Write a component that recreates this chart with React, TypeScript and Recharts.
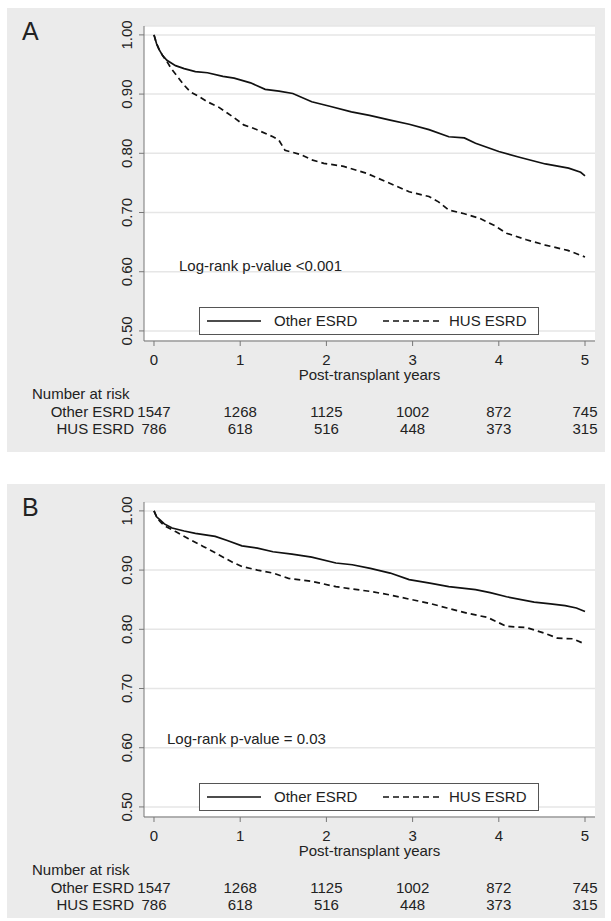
import React from 'react';
import { LineChart, Line, XAxis, YAxis, CartesianGrid } from 'recharts';

const FONT = "'Liberation Sans', Arial, sans-serif";

const years = [0, 1, 2, 3, 4, 5];
const survivalTicks = [0.5, 0.6, 0.7, 0.8, 0.9, 1.0];

const riskOther = [1547, 1268, 1125, 1002, 872, 745];
const riskHus = [786, 618, 516, 448, 373, 315];

// panel A
const otherATimes = [0, 0.03, 0.06, 0.1, 0.15, 0.25, 0.35, 0.48, 0.62, 0.8, 0.93, 1.12, 1.29, 1.45, 1.61, 1.83, 2.05, 2.29, 2.5, 2.74, 2.96, 3.19, 3.42, 3.6, 3.73, 4.0, 4.25, 4.54, 4.81, 4.95, 5.0];
const otherASurv = [1.0, 0.985, 0.975, 0.965, 0.957, 0.948, 0.943, 0.938, 0.936, 0.93, 0.927, 0.919, 0.908, 0.905, 0.901, 0.887, 0.879, 0.87, 0.864, 0.856, 0.849, 0.84, 0.828, 0.826, 0.817, 0.803, 0.793, 0.782, 0.775, 0.768, 0.762];
const husATimes = [0, 0.03, 0.06, 0.1, 0.15, 0.2, 0.27, 0.35, 0.42, 0.52, 0.62, 0.75, 0.85, 0.93, 1.04, 1.16, 1.38, 1.45, 1.52, 1.7, 1.83, 1.97, 2.2, 2.47, 2.74, 2.96, 3.19, 3.3, 3.42, 3.6, 3.78, 3.95, 4.09, 4.32, 4.54, 4.8, 5.0];
const husASurv = [1.0, 0.985, 0.975, 0.965, 0.955, 0.943, 0.93, 0.915, 0.904, 0.896, 0.887, 0.878, 0.868, 0.86, 0.848, 0.842, 0.828, 0.822, 0.805, 0.798, 0.789, 0.783, 0.778, 0.766, 0.749, 0.735, 0.727, 0.718, 0.704, 0.698, 0.69, 0.678, 0.665, 0.654, 0.645, 0.636, 0.625];

// panel B
const otherBTimes = [0, 0.03, 0.07, 0.12, 0.21, 0.35, 0.48, 0.71, 0.85, 1.02, 1.2, 1.38, 1.6, 1.83, 2.11, 2.3, 2.51, 2.74, 2.96, 3.2, 3.42, 3.73, 3.9, 4.09, 4.41, 4.6, 4.77, 4.9, 5.0];
const otherBSurv = [1.0, 0.99, 0.985, 0.978, 0.971, 0.966, 0.962, 0.957, 0.95, 0.941, 0.937, 0.931, 0.927, 0.922, 0.912, 0.909, 0.903, 0.895, 0.884, 0.878, 0.872, 0.867, 0.862, 0.855, 0.846, 0.843, 0.84, 0.836, 0.83];
const husBTimes = [0, 0.03, 0.07, 0.12, 0.25, 0.4, 0.57, 0.65, 0.75, 0.9, 1.02, 1.2, 1.38, 1.56, 1.83, 2.11, 2.3, 2.51, 2.74, 2.96, 3.19, 3.4, 3.64, 3.87, 4.09, 4.32, 4.54, 4.68, 4.86, 5.0];
const husBSurv = [1.0, 0.99, 0.982, 0.975, 0.965, 0.953, 0.94, 0.934, 0.926, 0.914, 0.906, 0.9, 0.895, 0.886, 0.881, 0.872, 0.868, 0.864, 0.858, 0.851, 0.844, 0.836, 0.827, 0.82, 0.805, 0.803, 0.793, 0.785, 0.784, 0.775];

const toRows = (times: number[], surv: number[]) => times.map((t, i) => ({ t, s: surv[i] }));

const PANEL_BG = '#ebebeb';
const TEXT = '#222';

const YearTick = (props: any) => {
	const { x, y, payload, index } = props;
	return (
		<g fontFamily={FONT} fontSize={15} fill={TEXT}>
			<text x={x} y={y + 17} textAnchor="middle">{payload.value}</text>
			<text x={x} y={y + 69} textAnchor="middle">{riskOther[index]}</text>
			<text x={x} y={y + 86} textAnchor="middle">{riskHus[index]}</text>
			{index === 0 && (
				<>
					<text x={25} y={y + 51}>Number at risk</text>
					<text x={x - 20} y={y + 69} textAnchor="end">Other ESRD</text>
					<text x={x - 20} y={y + 86} textAnchor="end">HUS ESRD</text>
				</>
			)}
		</g>
	);
};

const SurvTick = (props: any) => {
	const { x, y, payload } = props;
	return (
		<text x={x} y={y} transform={`rotate(-90 ${x} ${y})`} textAnchor="middle" fontFamily={FONT} fontSize={15} fill={TEXT}>
			{payload.value.toFixed(2)}
		</text>
	);
};

const LegendBox = () => (
	<div
		style={{
			position: 'absolute',
			left: 192,
			top: 299,
			width: 338,
			height: 26,
			border: '1px solid #555',
			background: '#fff',
			fontFamily: FONT,
			fontSize: 15,
			color: TEXT,
		}}
	>
		<svg width={338} height={26} style={{ position: 'absolute', left: 0, top: 0 }}>
			<line x1={7} x2={61} y1={13} y2={13} stroke="#111" strokeWidth={1.6} />
			<line x1={183} x2={243} y1={13} y2={13} stroke="#111" strokeWidth={1.6} strokeDasharray="6 4" />
		</svg>
		<span style={{ position: 'absolute', left: 74, top: 4 }}>Other ESRD</span>
		<span style={{ position: 'absolute', left: 249, top: 4 }}>HUS ESRD</span>
	</div>
);

interface PanelProps {
	letter: string;
	top: number;
	height: number;
	pText: string;
	pLeft: number;
	pTop: number;
	other: { t: number; s: number }[];
	hus: { t: number; s: number }[];
}

const Panel = ({ letter, top, height, pText, pLeft, pTop, other, hus }: PanelProps) => (
	<div style={{ position: 'absolute', left: 7, top, width: 598, height, background: PANEL_BG }}>
		<div style={{ position: 'absolute', left: 15, top: 9, fontFamily: FONT, fontSize: 25, color: TEXT }}>{letter}</div>
		<LineChart width={598} height={height} margin={{ top: 18, right: 10, bottom: height - 18 - 315 - 40, left: 97 }}>
			<CartesianGrid vertical={false} fill="#fff" stroke="#e6e6e6" strokeWidth={1.5} />
			<XAxis
				type="number"
				dataKey="t"
				domain={[-0.116, 5.116]}
				ticks={years}
				allowDataOverflow
				height={40}
				tickSize={5}
				tickMargin={2}
				stroke="#777"
				tick={<YearTick />}
				label={{ value: 'Post-transplant years', position: 'insideBottom', offset: 1, fill: TEXT, fontSize: 15, fontFamily: FONT }}
			/>
			<YAxis
				type="number"
				dataKey="s"
				domain={[0.483, 1.015]}
				ticks={survivalTicks}
				allowDataOverflow
				width={40}
				tickSize={5}
				tickMargin={7}
				stroke="#777"
				tick={<SurvTick />}
			/>
			<Line data={other} dataKey="s" name="Other ESRD" type="linear" stroke="#111" strokeWidth={1.7} dot={false} isAnimationActive={false} />
			<Line data={hus} dataKey="s" name="HUS ESRD" type="linear" stroke="#111" strokeWidth={1.7} strokeDasharray="6 4" dot={false} isAnimationActive={false} />
		</LineChart>
		<LegendBox />
		<div style={{ position: 'absolute', left: pLeft, top: pTop, fontFamily: FONT, fontSize: 15, color: TEXT, whiteSpace: 'nowrap' }}>{pText}</div>
	</div>
);

export default function App() {
	return (
		<div style={{ position: 'absolute', left: 0, top: 0, width: 611, height: 921, background: '#fff' }}>
			<Panel letter="A" top={8} height={444} pText="Log-rank p-value <0.001" pLeft={172} pTop={249} other={toRows(otherATimes, otherASurv)} hus={toRows(husATimes, husASurv)} />
			<Panel letter="B" top={484} height={434} pText="Log-rank p-value = 0.03" pLeft={160} pTop={246} other={toRows(otherBTimes, otherBSurv)} hus={toRows(husBTimes, husBSurv)} />
		</div>
	);
}
